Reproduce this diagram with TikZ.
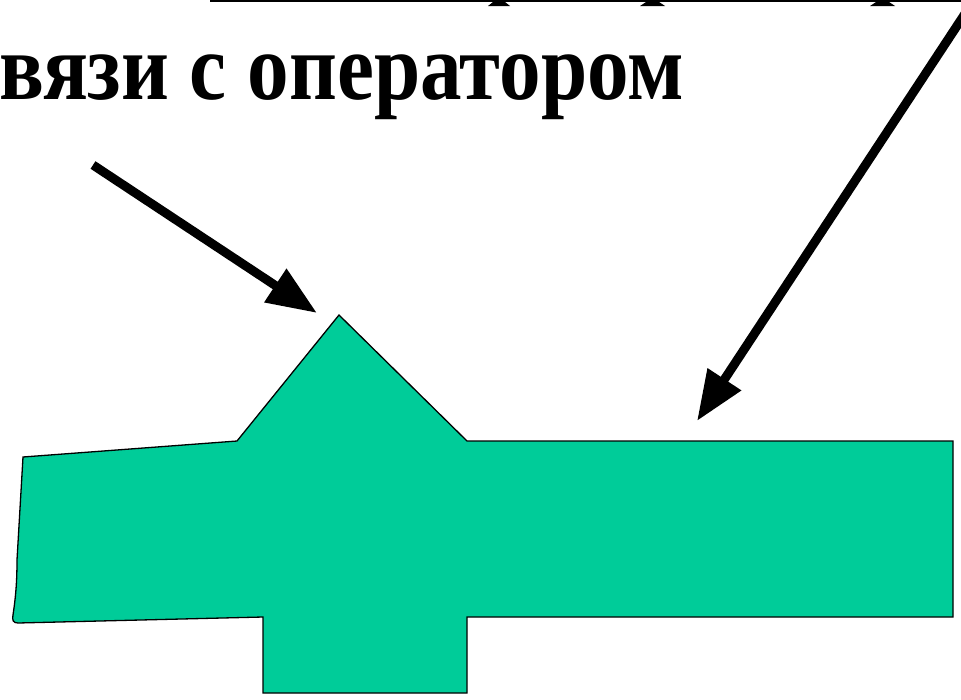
\documentclass[tikz,border=0pt]{standalone}
\usepackage{fontspec}
\setmainfont{Liberation Serif}
\usetikzlibrary{arrows.meta}
\definecolor{shapegreen}{RGB}{0,204,153}
\begin{document}
\begin{tikzpicture}[x=1pt,y=-1pt,
  pointer/.style={line width=9pt, -{Triangle[length=50pt,width=38pt]}},
  body/.style={fill=shapegreen, draw=black, line width=1.3pt, line join=miter},
  foot/.style={fill=black},
  title/.style={anchor=base west, inner sep=0pt, font=\bfseries\fontsize{95}{95}\selectfont}]
\useasboundingbox (0,0) rectangle (961,699);
\begin{scope}
\clip (0,0) rectangle (961,699);
% underline of the cut-off line above, with the feet of its descenders
\fill (210,0) rectangle (961,2.2);
\fill[foot] (493,2) -- (505,2) -- (510,6) -- (488,6) -- cycle;
\fill[foot] (646,2) -- (659,2) -- (665,6) -- (640,6) -- cycle;
\fill[foot] (876,2) -- (889,2) -- (895,6) -- (870,6) -- cycle;
% text
\node[title] (caption) at (-1,99) {\scalebox{0.875}[1]{вязи с оператором}};
% body
\draw[body] (339,315) -- (467,441) -- (953,441) -- (953,617) -- (467,617)
  -- (467,693) -- (263,693) -- (263,617) -- (18,623)
  .. controls (13,623) and (12,620) .. (13,615)
  .. controls (16,595) and (17,580) .. (17,560)
  -- (23,457) -- (237,441) -- cycle;
% arrows
\coordinate (lstart) at (93,165);
\coordinate (ltip) at (317,313);
\coordinate (rstart) at (974,0);
\coordinate (rtip) at (697,421);
\draw[pointer] (lstart) -- (ltip);
\draw[pointer] (rstart) -- (rtip);
\end{scope}
\end{tikzpicture}
\end{document}
